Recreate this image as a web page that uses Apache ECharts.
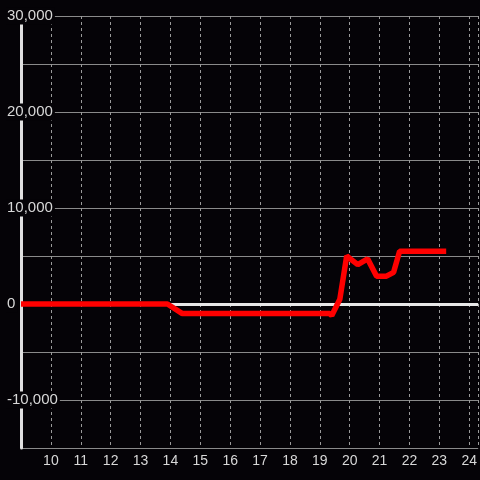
<!DOCTYPE html>
<html><head><meta charset="utf-8">
<script src="https://cdn.jsdelivr.net/npm/echarts@6/dist/echarts.min.js"></script>
<style>html,body{margin:0;padding:0;background:#050307;}#c{width:480px;height:480px;}</style>
</head><body><div id="c"></div>
<script>
const xValues = [9, 13.9, 14.4, 19.33, 19.4, 19.67, 19.9, 20.27, 20.6, 20.9, 21.23, 21.47, 21.67, 23.23];
const yValues = [0, 0, -1000, -1000, -1200, 500, 5000, 4100, 4700, 2900, 2900, 3300, 5500, 5500];
const xMin = 9, xMax = 24.3, xStep = 1;
const yMin = -15000, yMax = 30000, yStep = 5000;

const chart = echarts.init(document.getElementById('c'));
const data = xValues.map((x, i) => [x, yValues[i]]);
chart.setOption({
  backgroundColor: '#050307',
  animation: false,
  grid: {left: 21, right: 0, top: 16, bottom: 32},
  xAxis: {
    type: 'value', min: xMin, max: xMax, interval: xStep,
    axisLine: {show: false},
    axisTick: {show: false},
    axisLabel: {color: '#d8d8d8', fontSize: 14, margin: 6, showMinLabel: false, showMaxLabel: false,
      fontFamily: 'Liberation Sans, Arial, sans-serif'},
    splitLine: {show: true, lineStyle: {color: '#9a9a9a', type: [3, 3], width: 1}}
  },
  yAxis: {
    type: 'value', min: yMin, max: yMax, interval: yStep,
    axisLine: {show: true, lineStyle: {color: '#e0e0e0', width: 3}},
    axisTick: {show: false},
    axisLabel: {
      color: '#d8d8d8', fontSize: 15, align: 'left', margin: 15,
      fontFamily: 'Liberation Sans, Arial, sans-serif',
      backgroundColor: '#050307', padding: [1, 2, 1, 1],
      formatter: v => (v % 10000 === 0 && v !== yMin) ? v.toLocaleString('en-US') : ''
    },
    splitLine: {show: true, lineStyle: {color: '#8a8a8a', width: 1}}
  },
  series: [
    {
      type: 'line', data: [], z: 1,
      markLine: {
        silent: true, symbol: 'none', z: 1,
        label: {show: false},
        lineStyle: {color: '#e8e8e8', width: 3, type: 'solid'},
        data: [{yAxis: 0}]
      }
    },
    {
      type: 'line', data: data, z: 3,
      symbol: 'none', showSymbol: false,
      lineStyle: {color: '#ff0000', width: 5.5}
    }
  ]
});
</script></body></html>
